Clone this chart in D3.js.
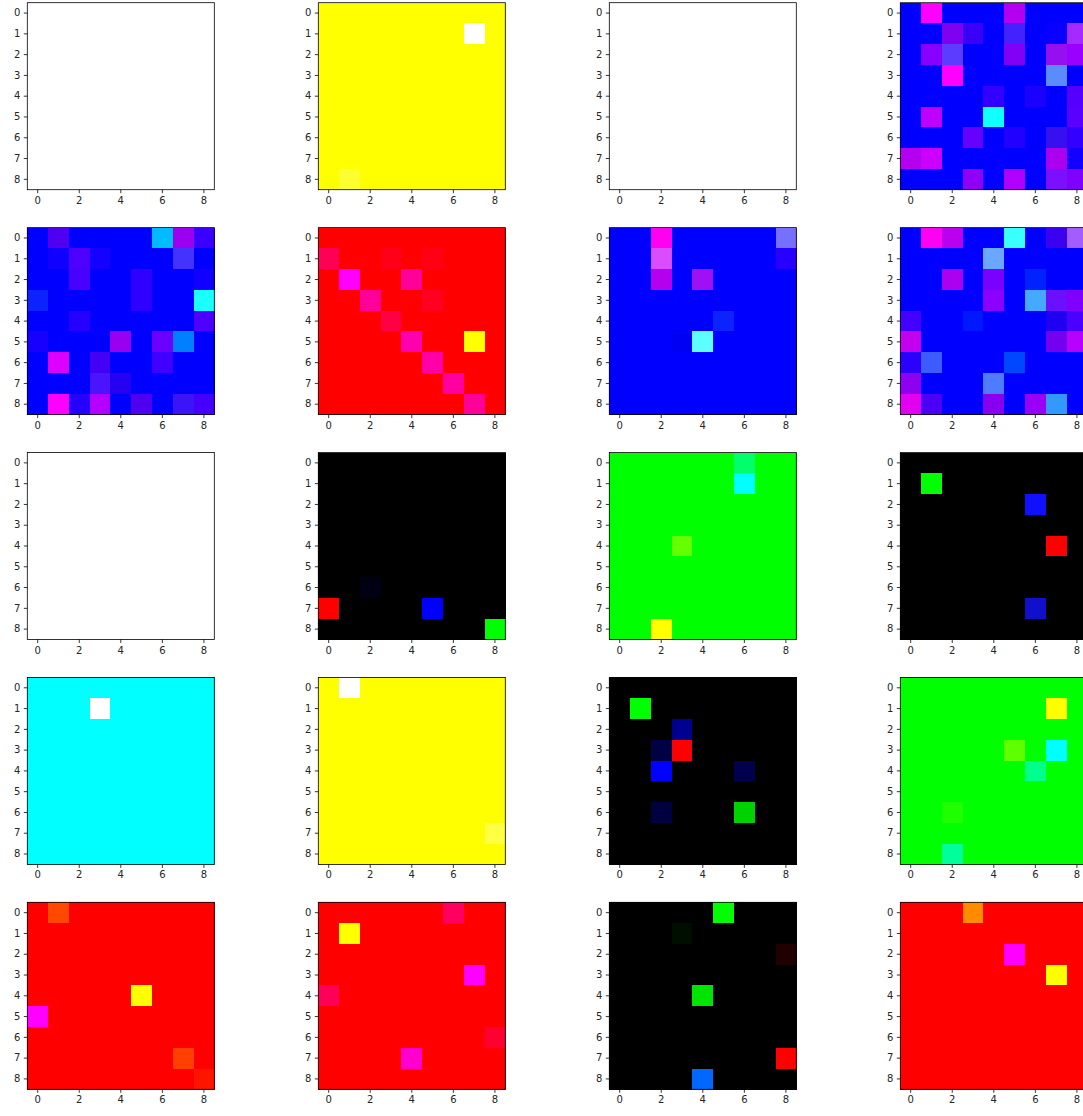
<!DOCTYPE html>
<html>
<head>
<meta charset="utf-8">
<script src="https://cdn.jsdelivr.net/npm/d3@7"></script>
<style>
  html, body { margin: 0; padding: 0; background: #ffffff; }
  svg { display: block; }
</style>
</head>
<body>
<script>
// ---- data ----
const rowIndex = [0, 1, 2, 3, 4, 5, 6, 7, 8];
const colIndex = [0, 1, 2, 3, 4, 5, 6, 7, 8];
const yTickLabels = [0, 1, 2, 3, 4, 5, 6, 7, 8];
const xTickLabels = [0, 2, 4, 6, 8];

// background colour of each of the 20 images (row-major order of the grid)
const panelBase = [
  "#ffffff", "#ffff00", "#ffffff", "#0000ff",
  "#0000ff", "#ff0000", "#0000ff", "#0000ff",
  "#ffffff", "#000000", "#00ff00", "#000000",
  "#00ffff", "#ffff00", "#000000", "#00ff00",
  "#ff0000", "#ff0000", "#000000", "#ff0000"
];

// cells that differ from the background: [row, col, colour]
const panel00 = [];
const panel01 = [[1, 7, "#ffffff"], [8, 1, "#ffff30"]];
const panel02 = [];
const panel03 = [
  [0, 1, "#ff00ff"], [0, 5, "#b400f0"],
  [1, 2, "#8000f0"], [1, 3, "#3a00f5"], [1, 5, "#4422ff"], [1, 7, "#0a00ff"], [1, 8, "#a52aff"],
  [2, 1, "#8800ff"], [2, 2, "#5c3cff"], [2, 5, "#8200f5"], [2, 7, "#9410f0"], [2, 8, "#9900ff"],
  [3, 2, "#ff00ff"], [3, 7, "#5b8cff"],
  [4, 4, "#3300ff"], [4, 6, "#1a00ff"], [4, 8, "#5500ff"],
  [5, 1, "#c000ff"], [5, 4, "#10ffff"], [5, 8, "#5a00ff"],
  [6, 3, "#6600ff"], [6, 5, "#2200ff"], [6, 7, "#3810f0"], [6, 8, "#3300ff"],
  [7, 0, "#b300f0"], [7, 1, "#cc00ff"], [7, 7, "#aa00ee"], [7, 8, "#1400ff"],
  [8, 3, "#8f00f5"], [8, 5, "#b000ff"], [8, 7, "#7a10ff"], [8, 8, "#7f00ff"]
];
const panel10 = [
  [0, 1, "#5000f0"], [0, 6, "#00bbff"], [0, 7, "#9c00f0"], [0, 8, "#3a00ff"],
  [1, 1, "#1000ff"], [1, 2, "#4e00ff"], [1, 3, "#1400ff"], [1, 7, "#4433ff"],
  [2, 2, "#4800ff"], [2, 5, "#2d00ff"], [2, 8, "#1000ff"],
  [3, 0, "#0b24ff"], [3, 5, "#2d00ff"], [3, 8, "#1affff"],
  [4, 2, "#2500ff"], [4, 8, "#4d00ff"],
  [5, 0, "#1800ff"], [5, 4, "#9a00f0"], [5, 6, "#6a00ff"], [5, 7, "#0080ff"],
  [6, 1, "#dd00ff"], [6, 3, "#4400f4"], [6, 6, "#4000ff"],
  [7, 3, "#4b14ff"], [7, 4, "#2600f0"],
  [8, 1, "#ff00ff"], [8, 2, "#2600ff"], [8, 3, "#b300ff"], [8, 5, "#4f00ee"], [8, 7, "#3c14f8"], [8, 8, "#4400ff"]
];
const panel11 = [
  [1, 0, "#ff0055"], [1, 3, "#ff0018"], [1, 5, "#ff0014"],
  [2, 1, "#ff00ff"], [2, 4, "#ff0099"],
  [3, 2, "#ff0099"], [3, 5, "#ff0020"],
  [4, 3, "#ff0044"],
  [5, 4, "#ff00b0"], [5, 7, "#ffff00"],
  [6, 5, "#ff00a8"],
  [7, 6, "#ff00a0"],
  [8, 7, "#ff0099"]
];
const panel12 = [
  [0, 2, "#ff00f0"], [0, 8, "#7570ff"],
  [1, 2, "#d94dff"], [1, 8, "#2800ff"],
  [2, 2, "#b400ee"], [2, 4, "#a010f5"],
  [4, 5, "#0c22ff"],
  [5, 3, "#0000f4"], [5, 4, "#5cffff"]
];
const panel13 = [
  [0, 1, "#ff00f0"], [0, 2, "#bb00f0"], [0, 5, "#3affff"], [0, 7, "#3c00f0"], [0, 8, "#a35cff"],
  [1, 4, "#6aa8ff"],
  [2, 2, "#ac00f0"], [2, 4, "#7a00ff"], [2, 6, "#0022ff"],
  [3, 4, "#8c00ff"], [3, 6, "#45aaff"], [3, 7, "#6a10ff"], [3, 8, "#7f00ff"],
  [4, 0, "#4400ff"], [4, 3, "#0018ff"], [4, 7, "#2000f0"], [4, 8, "#4c00ff"],
  [5, 0, "#c400ee"], [5, 7, "#7300f0"], [5, 8, "#b800ff"],
  [6, 0, "#2b00ff"], [6, 1, "#3d5cff"], [6, 5, "#0048ff"],
  [7, 0, "#8e00f0"], [7, 4, "#4d7cff"],
  [8, 0, "#e200f0"], [8, 1, "#4b00f5"], [8, 4, "#8800f0"], [8, 6, "#9900f5"], [8, 7, "#3398ff"]
];
const panel20 = [];
const panel21 = [[6, 2, "#000014"], [7, 0, "#ff0000"], [7, 5, "#0000ff"], [8, 8, "#00ff00"]];
const panel22 = [[0, 6, "#00ff6a"], [1, 6, "#00ffff"], [4, 3, "#64ff00"], [8, 2, "#ffff00"]];
const panel23 = [[1, 1, "#00ff00"], [2, 6, "#1010ff"], [4, 7, "#ff0000"], [7, 6, "#1010cc"]];
const panel30 = [[1, 3, "#ffffff"]];
const panel31 = [[0, 1, "#ffffff"], [7, 8, "#ffff44"]];
const panel32 = [
  [1, 1, "#00ff00"], [2, 3, "#000090"], [3, 2, "#000044"], [3, 3, "#ff0000"],
  [4, 2, "#0000ff"], [4, 6, "#00004c"], [6, 2, "#000040"], [6, 6, "#00d200"]
];
const panel33 = [
  [1, 7, "#ffff00"], [3, 5, "#60ff00"], [3, 7, "#00ffff"],
  [4, 6, "#00ff8c"], [6, 2, "#20ff00"], [8, 2, "#00ff9a"]
];
const panel40 = [[0, 1, "#ff4800"], [4, 5, "#ffff00"], [5, 0, "#ff00ff"], [7, 7, "#ff4000"], [8, 8, "#ff1400"]];
const panel41 = [[0, 6, "#ff0060"], [1, 1, "#ffff00"], [3, 7, "#ff00ff"], [4, 0, "#ff0058"], [6, 8, "#ff0030"], [7, 4, "#ff00d0"]];
const panel42 = [[0, 5, "#00ff00"], [1, 3, "#000e00"], [2, 8, "#200000"], [4, 4, "#00e400"], [7, 8, "#ff0000"], [8, 4, "#0068ff"]];
const panel43 = [[0, 3, "#ff8c00"], [2, 5, "#ff00ff"], [3, 7, "#ffff00"]];

const panelSpots = [
  panel00, panel01, panel02, panel03,
  panel10, panel11, panel12, panel13,
  panel20, panel21, panel22, panel23,
  panel30, panel31, panel32, panel33,
  panel40, panel41, panel42, panel43
];

// ---- layout ----
const W = 1083, H = 1116;
const nCols = 4;
const axLeft0 = 27.3, axStepX = 291;
const axTop0 = 2.7, axStepY = 224.9;
const axSize = 187;

const svg = d3.select("body").append("svg")
  .attr("width", W).attr("height", H)
  .style("font-family", "'DejaVu Sans', sans-serif");

panelBase.forEach((base, p) => {
  const gr = Math.floor(p / nCols), gc = p % nCols;
  const x0 = axLeft0 + gc * axStepX;
  const y0 = axTop0 + gr * axStepY;

  const x = d3.scaleBand().domain(colIndex).range([x0, x0 + axSize]).paddingInner(0).paddingOuter(0);
  const y = d3.scaleBand().domain(rowIndex).range([y0, y0 + axSize]).paddingInner(0).paddingOuter(0);

  // build full grid
  const grid = [];
  rowIndex.forEach(r => colIndex.forEach(c => grid.push({ r, c, color: base })));
  panelSpots[p].forEach(([r, c, col]) => { grid[r * 9 + c].color = col; });

  const g = svg.append("g");
  g.selectAll("rect.cell").data(grid).enter().append("rect")
    .attr("class", "cell")
    .attr("x", d => x(d.c))
    .attr("y", d => y(d.r))
    .attr("width", x.bandwidth() + 0.3)
    .attr("height", y.bandwidth() + 0.3)
    .attr("fill", d => d.color)
    .attr("shape-rendering", "crispEdges");

  // frame
  g.append("rect")
    .attr("x", x0).attr("y", y0).attr("width", axSize).attr("height", axSize)
    .attr("fill", "none").attr("stroke", "#000").attr("stroke-width", 0.8);

  // axes
  const yAxis = d3.axisLeft(y).tickValues(yTickLabels).tickSize(3.5).tickPadding(3.5).tickSizeOuter(0);
  const xAxis = d3.axisBottom(x).tickValues(xTickLabels).tickSize(3.5).tickPadding(3.5).tickSizeOuter(0);

  const ya = svg.append("g").attr("transform", `translate(${x0},0)`).call(yAxis);
  const xa = svg.append("g").attr("transform", `translate(0,${y0 + axSize})`).call(xAxis);
  [ya, xa].forEach(a => {
    a.select(".domain").remove();
    a.selectAll(".tick line").attr("stroke", "#000").attr("stroke-width", 0.8);
    a.selectAll(".tick text").attr("fill", "#262626")
      .style("font-size", "10px").style("font-family", "'DejaVu Sans', sans-serif");
  });
});
</script>
</body>
</html>
